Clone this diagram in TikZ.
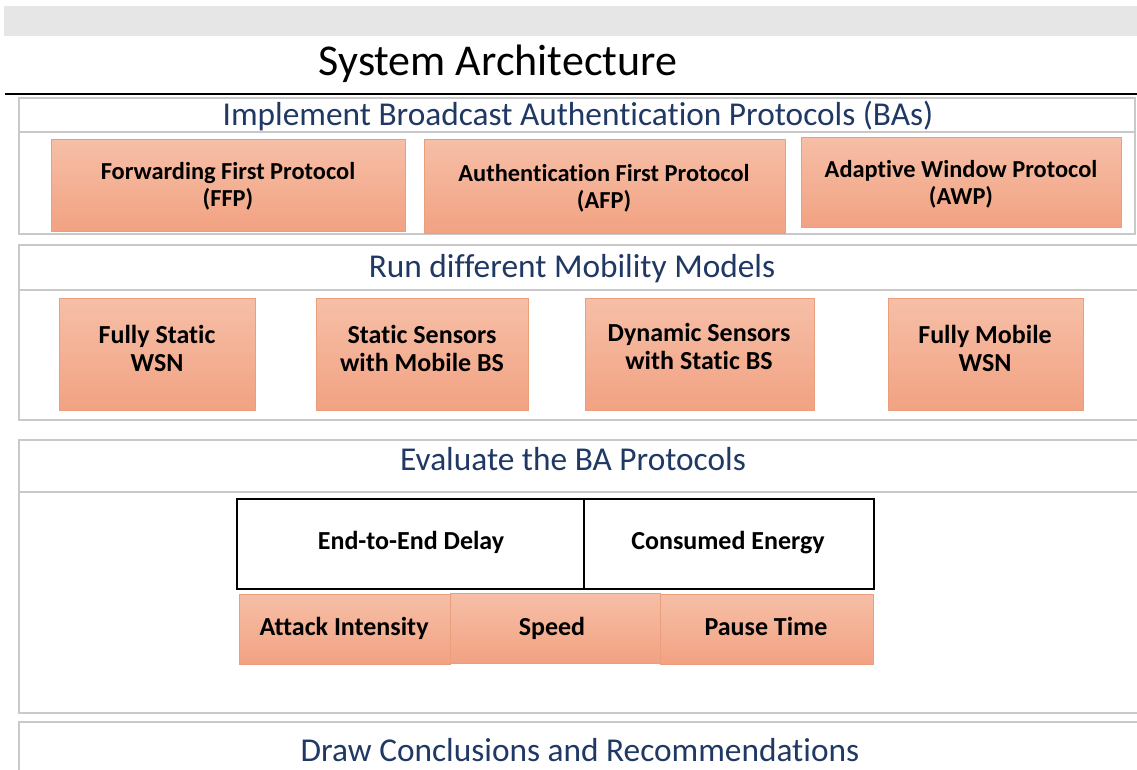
\documentclass[tikz,border=0pt]{standalone}
\usepackage{fontspec}
\setmainfont{Carlito}[RawFeature={-liga;-clig;-dlig;-calt}]
\definecolor{navy}{HTML}{1F3864}
\definecolor{frameg}{HTML}{C9C9C9}
\definecolor{bandg}{HTML}{E6E6E6}
\definecolor{otop}{HTML}{F6BFA7}
\definecolor{obot}{HTML}{F2A282}
\definecolor{oline}{HTML}{E99E7C}
\tikzset{
  frame/.style={draw=frameg, line width=1.2pt},
  obox/.style={draw=oline, line width=0.6pt, top color=otop, bottom color=obot, inner sep=0pt},
  wbox/.style={draw=black, line width=1.1pt, fill=white, inner sep=0pt},
  lbl/.style={inner sep=0pt, align=center, font=\fontsize{19.5}{21}\selectfont\bfseries},
  lbls/.style={lbl, text height=0.68em, text depth=0.2em},
  lbla/.style={inner sep=0pt, align=center, font=\fontsize{18.3}{20.5}\selectfont\bfseries},
  hdr/.style={text=navy, inner sep=0pt, font=\fontsize{25}{30}\selectfont},
}
% \mybox[style]{name}{x1}{y1}{x2}{y2}
\newcommand\mybox[6][obox]{%
  \node[#1, minimum width={(#5-#3)*0.75pt}, minimum height={(#6-#4)*0.75pt}] (#2) at ({(#3+#5)/2},{(#4+#6)/2}) {};}
\begin{document}
\begin{tikzpicture}[x=0.75pt,y=-0.75pt]
\useasboundingbox (0,0) rectangle (1137,769);
\fill[white] (0,0) rectangle (1137,769);
% top band and title
\fill[bandg] (4,6) rectangle (1137,36);
\node[inner sep=0pt, font=\fontsize{33}{40}\selectfont] (title) at (498,64) {System Architecture};
\coordinate (rl) at (5,94);
\coordinate (rr) at (1137,94);
\draw[line width=1.1pt] (rl) -- (rr);

% Section 1
\draw[frame] (19,98) rectangle (1135,234);
\draw[frame] (19,132) -- (1135,132);
\node[hdr] (h1) at (578,116) {Implement Broadcast Authentication Protocols (BAs)};
\mybox{ffp}{51}{139}{405}{231}
\mybox{afp}{424}{139}{785}{233}
\mybox{awp}{801}{137}{1121}{227}
\node[lbla] (tffp) at (228,186) {Forwarding First Protocol\\(FFP)};
\node[lbla] (tafp) at (604,188) {Authentication First Protocol\\(AFP)};
\node[lbla] (tawp) at (961,184) {Adaptive Window Protocol\\(AWP)};

% Section 2
\draw[frame] (19,245) rectangle (1150,420);
\draw[frame] (19,290) -- (1150,290);
\node[hdr] (h2) at (572,269) {Run different Mobility Models};
\mybox{fs}{59}{298}{255}{410}
\mybox{ss}{316}{298}{528}{410}
\mybox{ds}{585}{298}{814}{410}
\mybox{fm}{888}{298}{1083}{410}
\node[lbl] (tfs) at (157,348) {Fully Static\\WSN};
\node[lbl] (tss) at (422,348) {Static Sensors\\with Mobile BS};
\node[lbl] (tds) at (699,346) {Dynamic Sensors\\with Static BS};
\node[lbl] (tfm) at (985,348) {Fully Mobile\\WSN};

% Section 3
\draw[frame] (19,440) rectangle (1150,713);
\draw[frame] (19,492) -- (1150,492);
\node[hdr] (h3) at (573,459) {Evaluate the BA Protocols};
\mybox[wbox]{ede}{237}{499}{584}{589}
\mybox[wbox]{ce}{584}{499}{874}{589}
\mybox{ai}{239}{594}{450}{664}
\mybox{sp}{450}{593}{660}{663}
\mybox{pt}{660}{594}{873}{664}
\node[lbls] (tede) at (411,546) {End-to-End Delay};
\node[lbls] (tce) at (728,546) {Consumed Energy};
\node[lbls] (tai) at (344,632) {Attack Intensity};
\node[lbls] (tsp) at (552,632) {Speed};
\node[lbls] (tpt) at (766,632) {Pause Time};

% Section 4
\draw[frame] (19,722) rectangle (1150,790);
\node[hdr] (h4) at (580,750) {Draw Conclusions and Recommendations};
\end{tikzpicture}
\end{document}
